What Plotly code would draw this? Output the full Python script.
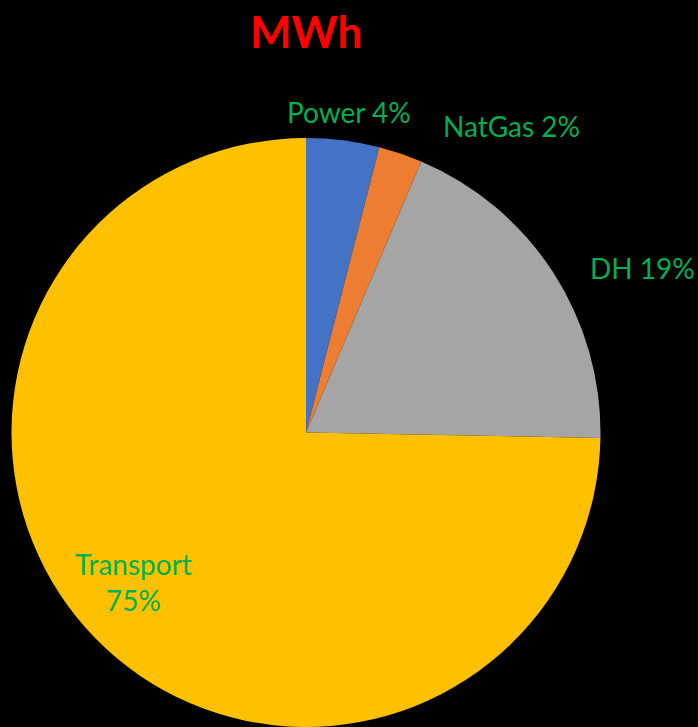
import plotly.graph_objects as go

W, H = 698, 727

categories = ["Power", "NatGas", "DH", "Transport"]
values = [4.0, 2.4, 18.9, 74.7]
pct_labels = ["4%", "2%", "19%", "75%"]
colors = ["#4472C4", "#ED7D31", "#A5A5A5", "#FFC000"]
title_text = "MWh"

fig = go.Figure(go.Pie(
    labels=categories,
    values=values,
    sort=False,
    direction="clockwise",
    rotation=0,
    marker=dict(colors=colors, line=dict(width=0)),
    textinfo="none",
    hoverinfo="label+percent",
    domain=dict(x=[10 / W, 602 / W], y=[0, 589 / H]),
    showlegend=False,
))

# label positions (pixel centres) for each slice label
label_px = [(349, 112), (511, 126), (642, 268), (133, 582)]
label_text = [
    f"{categories[0]} {pct_labels[0]}",
    f"{categories[1]} {pct_labels[1]}",
    f"{categories[2]} {pct_labels[2]}",
    f"{categories[3]}<br>{pct_labels[3]}",
]
annotations = []
for (px, py), t in zip(label_px, label_text):
    annotations.append(dict(
        x=px / W, y=1 - py / H, xref="paper", yref="paper",
        text=t, showarrow=False, xanchor="center", yanchor="middle",
        font=dict(family="Lato", size=28, color="#00B050"),
        align="center",
    ))
annotations.append(dict(
    x=306 / W, y=1 - 31 / H, xref="paper", yref="paper",
    text=f"<b>{title_text}</b>", showarrow=False, xanchor="center", yanchor="middle",
    font=dict(family="Lato", size=44, color="#FF0000"),
))

fig.update_layout(
    width=W, height=H,
    margin=dict(l=0, r=0, t=0, b=0),
    paper_bgcolor="#000000",
    plot_bgcolor="#000000",
    annotations=annotations,
)

fig.write_html("out.html")
